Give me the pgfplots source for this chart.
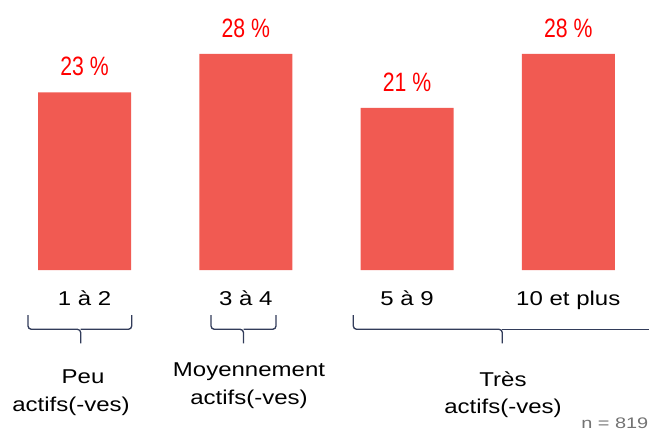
\documentclass[border=0pt]{standalone}
\usepackage{fontspec}
\setmainfont{Liberation Sans}
\newfontfamily\widefont[FakeStretch=1.2]{Liberation Sans}
\newfontfamily\nfont[FakeStretch=1.3]{Liberation Sans}
\newfontfamily\narrowfont[FakeStretch=0.8]{Liberation Sans}
\usepackage{pgfplots}
\pgfplotsset{compat=1.18}
\definecolor{barred}{RGB}{241,90,82}
\definecolor{labred}{RGB}{255,0,0}
\definecolor{brace}{RGB}{50,60,90}
\begin{document}
\begin{tikzpicture}
\begin{axis}[
  at={(2.925pt,120pt)}, anchor=south west,
  scale only axis, width=483.75pt, height=173.7pt,
  xmin=-0.5, xmax=3.5, ymin=0, ymax=30,
  axis line style={draw=none}, major tick length=0pt,
  ytick=\empty, xtick=data,
  xticklabels={1 à 2, 3 à 4, 5 à 9, 10 et plus},
  xticklabel style={font=\widefont\fontsize{15}{18}\selectfont, anchor=base, yshift=-26.5pt, inner sep=0pt},
  clip=false,
  ybar, bar width=69.75pt,
  nodes near coords={\pgfmathprintnumber[assume math mode=true]{\pgfplotspointmeta}~\%},
  every node near coord/.append style={font=\narrowfont\fontsize{19.9}{24}\selectfont, text=labred, anchor=base, yshift=12.5pt, inner sep=0pt},
]
\addplot[fill=barred, draw=none] coordinates {(0,23) (1,28) (2,21) (3,28)};
\end{axis}
\begin{scope}[shift={(0,322.5pt)}, x=0.75pt, y=-0.75pt]
\path[use as bounding box] (0,0) rectangle (649,430);
\begin{scope}[draw=brace, line width=1pt, rounded corners=2.5pt]
\draw (28,315) -- (28,329.3) -- (80.7,329.3) -- (80.7,343.3);
\draw (80.7,329.3) -- (131.7,329.3) -- (131.7,315);
\draw (211,315) -- (211,329.3) -- (243.5,329.3) -- (243.5,343.3);
\draw (243.5,329.3) -- (276,329.3) -- (276,315);
\draw (353.3,315) -- (353.3,329.3) -- (502.3,329.3) -- (502.3,343.3);
\draw (502.3,329.3) -- (660,329.3);
\end{scope}
\begin{scope}[every node/.style={font=\widefont\fontsize{15}{18}\selectfont, inner sep=0pt, anchor=base}]
\node at (83,383) {Peu};
\node at (71,411) {actifs(-ves)};
\node at (249,376) {Moyennement};
\node at (249,404) {actifs(-ves)};
\node at (503,386) {Très};
\node at (503,413) {actifs(-ves)};
\end{scope}
\node[anchor=base west, inner sep=0pt, text=black!55, font=\nfont\fontsize{11.5}{14}\selectfont] at (581,428) {n = 819};
\end{scope}
\end{tikzpicture}
\end{document}
